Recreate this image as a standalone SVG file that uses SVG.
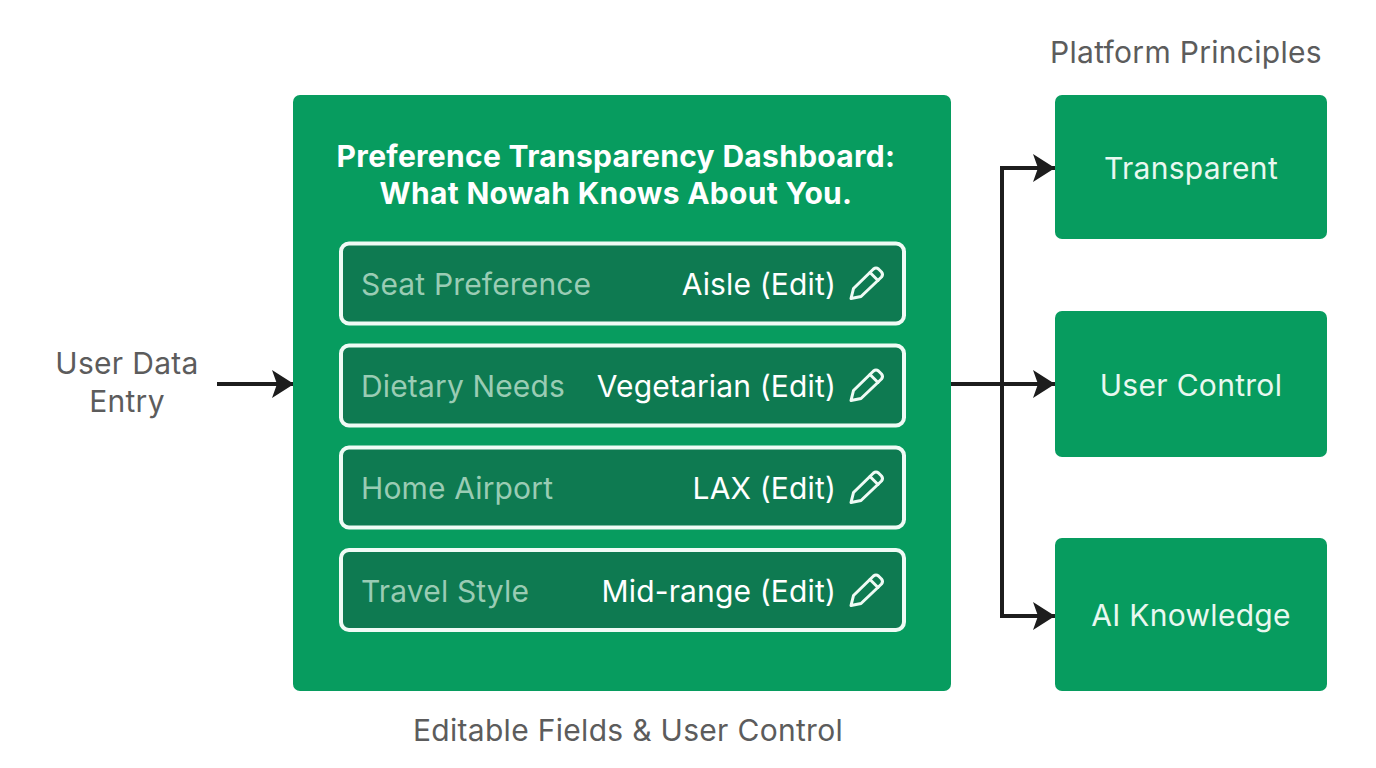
<svg xmlns="http://www.w3.org/2000/svg" width="1376" height="768" viewBox="0 0 1376 768">
<style>
text{font-family:Inter,"Liberation Sans",sans-serif;font-size:30px;letter-spacing:.3px}
.g{fill:#079c5f}
.cap{fill:#5c5c5c}
.title{font-weight:700;fill:#fff;text-anchor:middle}
.f{fill:#0e7a51;stroke:#effbf5;stroke-width:4}
.l{fill:#9accb4;letter-spacing:.15px}
.v{fill:#fff;text-anchor:end;letter-spacing:.15px}
.p{fill:#e9f8f0;text-anchor:middle}
.c{fill:none;stroke:#1d1d1d;stroke-width:4}
.pen{fill:none;stroke:#effbf5;stroke-width:3;stroke-linejoin:round;stroke-linecap:round}
</style>
<defs>
<marker id="a" markerUnits="userSpaceOnUse" markerWidth="24" markerHeight="28" refX="22" refY="14" orient="auto"><path d="M0 0L22 14L0 28L5 14Z" fill="#1d1d1d"/></marker>
<g id="pencil"><path class="pen" d="M-15 15L-12.500 5L7.500 -14.500Q10 -16.500 12.500 -14.500L15.500 -11.500Q17.500 -9 15.500 -6.500L-5 13Z"/><path class="pen" d="M4 -11L12 -3"/></g>
</defs>
<rect width="1376" height="768" fill="#fff"/>
<g id="connectors">
<path class="c" d="M217 384H294" marker-end="url(#a)"/>
<path class="c" d="M951 384H1055" marker-end="url(#a)"/>
<path class="c" d="M1002 384V168H1055" marker-end="url(#a)"/>
<path class="c" d="M1002 384V616H1055" marker-end="url(#a)"/>
</g>
<g id="user-data-entry"><text class="cap" x="127" y="373.500" text-anchor="middle">User Data</text><text class="cap" x="127" y="411.500" text-anchor="middle">Entry</text></g>
<g id="dashboard">
<rect class="g" x="293" y="95" width="658" height="596" rx="7"/>
<text class="title" x="616" y="166.500">Preference Transparency Dashboard:</text>
<text class="title" x="616" y="204">What Nowah Knows About You.</text>
</g>
<g id="field-seat"><rect class="f" x="341" y="243.500" width="563" height="80" rx="8"/><text class="l" x="361" y="294.500">Seat Preference</text><text class="v" x="836" y="294.500">Aisle (Edit)</text><use href="#pencil" x="866" y="283.500"/></g>
<g id="field-diet"><rect class="f" x="341" y="345.500" width="563" height="80" rx="8"/><text class="l" x="361" y="396.500">Dietary Needs</text><text class="v" x="836" y="396.500">Vegetarian (Edit)</text><use href="#pencil" x="866" y="385.500"/></g>
<g id="field-airport"><rect class="f" x="341" y="447.500" width="563" height="80" rx="8"/><text class="l" x="361" y="498.500">Home Airport</text><text class="v" x="836" y="498.500">LAX (Edit)</text><use href="#pencil" x="866" y="487.500"/></g>
<g id="field-style"><rect class="f" x="341" y="550" width="563" height="80" rx="8"/><text class="l" x="361" y="601.500">Travel Style</text><text class="v" x="836" y="601.500">Mid-range (Edit)</text><use href="#pencil" x="866" y="590.500"/></g>
<text class="cap" x="628" y="741" text-anchor="middle">Editable Fields &amp; User Control</text>
<text class="cap" x="1186" y="62.500" text-anchor="middle">Platform Principles</text>
<g id="transparent"><rect class="g" x="1055" y="95" width="272" height="144" rx="7"/><text class="p" x="1191" y="178.500">Transparent</text></g>
<g id="user-control"><rect class="g" x="1055" y="311" width="272" height="146" rx="7"/><text class="p" x="1191" y="395.500">User Control</text></g>
<g id="ai-knowledge"><rect class="g" x="1055" y="538" width="272" height="153" rx="7"/><text class="p" x="1191" y="625.500">AI Knowledge</text></g>
</svg>
